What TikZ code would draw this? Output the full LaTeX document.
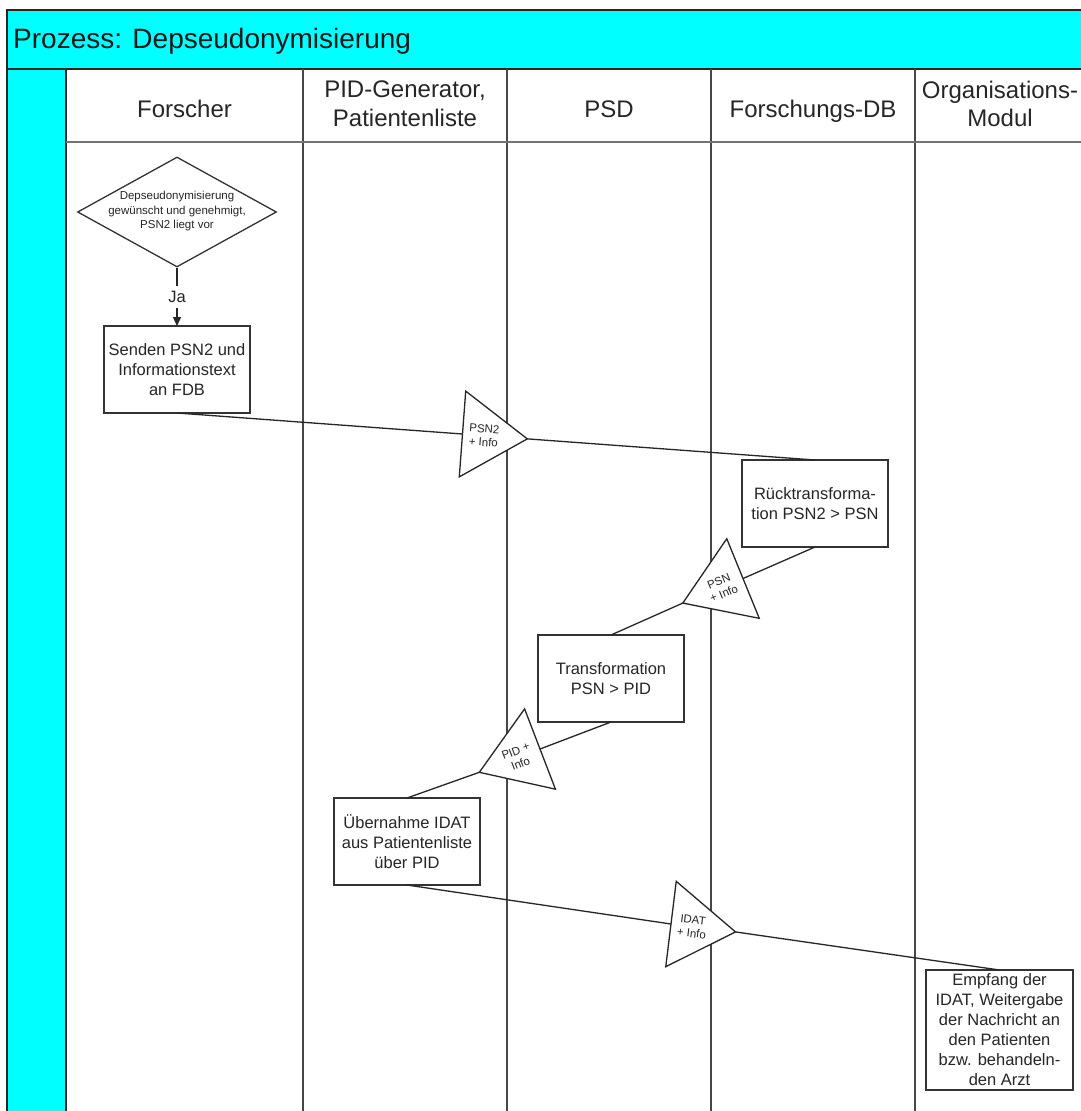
\documentclass[tikz,border=0pt]{standalone}
\usepackage{fontspec}
\setmainfont{Liberation Sans}
\usetikzlibrary{shapes.geometric,arrows.meta,calc}
\definecolor{poolcyan}{HTML}{00FFFF}
\definecolor{inkgray}{HTML}{262626}
\begin{document}
\begin{tikzpicture}[x=1pt,y=-1pt,
  lane/.style={line width=2pt, draw=black!72},
  taskbox/.style={draw=black!80, line width=1.4pt, fill=white, minimum width=146pt,
    minimum height=87pt, inner sep=0pt, outer sep=0pt, align=center,
    font=\fontsize{16.5}{20}\selectfont, text=inkgray},
  headtext/.style={align=center, font=\fontsize{24}{28.5}\selectfont, text=inkgray, inner sep=0pt},
  % base length is the minimum width, apex-to-base depth is the minimum height
  msgtri/.style={isosceles triangle, isosceles triangle stretches, minimum width=86pt,
    minimum height=65pt, inner sep=0pt, outer sep=0pt, draw=black!85, line width=1.3pt,
    fill=white, anchor=west},
  msglabel/.style={align=center, font=\fontsize{11.5}{13.5}\selectfont, text=inkgray, inner sep=0pt},
  flow/.style={line width=1.3pt, draw=black!85},
]
\useasboundingbox (0,0) rectangle (1080,1111);
\fill[white] (0,0) rectangle (1080,1111);

% pool title bar and left band
\draw[fill=poolcyan, line width=2pt, draw=black!85] (7,10) rectangle (1090,69);
\draw[fill=poolcyan, line width=2pt, draw=black!85] (7,69) rectangle (66,1120);
\node[anchor=base west, font=\fontsize{28}{32}\selectfont, text=black!90, inner sep=0pt]
  (title) at (13,48) {Prozess: Depseudonymisierung};

% swimlane dividers
\foreach \lx in {303,507,711,915} \draw[lane] (\lx,69) -- (\lx,1120);
\draw[line width=2pt, draw=black!55] (66,142) -- (1090,142);

% lane headers
\node[headtext, anchor=base] (hForscher) at (184.5,117.5) {Forscher};
\node[headtext] (hPID) at (405,103.5) {PID-Generator,\\Patientenliste};
\node[headtext, anchor=base] (hPSD) at (609,117.5) {PSD};
\node[headtext, anchor=base] (hFDB) at (813,117.5) {Forschungs-DB};
\node[headtext] (hOrg) at (1000,104) {Organisations-\\Modul};

% decision
\node[diamond, draw=black!80, line width=1.3pt, fill=white, minimum width=199pt,
  minimum height=110pt, inner sep=0pt] (dec) at (177,212) {};
\node[align=center, font=\fontsize{11.5}{14.5}\selectfont, text=inkgray, inner sep=0pt]
  (decText) at (177,211.5) {Depseudonymisierung\\gewünscht und genehmigt,\\PSN2 liegt vor};
\node[font=\fontsize{16.5}{20}\selectfont, text=inkgray, inner sep=0pt, minimum height=22pt]
  (ja) at (177,297) {Ja};

% tasks
\node[taskbox] (send) at (177,369.5) {Senden PSN2 und\\Informationstext\\an FDB};
\node[taskbox] (rueck) at (815,503.5) {Rücktransforma-\\tion PSN2 > PSN};
\node[taskbox] (trans) at (611,678.5) {Transformation\\PSN > PID};
\node[taskbox] (uebern) at (407,841.5) {Übernahme IDAT\\aus Patientenliste\\über PID};
\node[taskbox, minimum width=147pt, minimum height=120pt] (empf) at (999.5,1030)
  {Empfang der\\IDAT, Weitergabe\\der Nachricht an\\den Patienten\\bzw. behandeln-\\den Arzt};

% message triangles
\node[msgtri, rotate=-4.3] (m1) at (462.5,434) {};
\node[msglabel, rotate=-4.3] (m1text) at ($(m1.west)!0.33!(m1.apex)$) {PSN2\\+ Info};
\node[msgtri, rotate=202.2] (m2) at (743,578.5) {};
\node[msglabel, rotate=22.2] (m2text) at ($(m2.west)!0.36!(m2.apex)$) {PSN\\+ Info};
\node[msgtri, rotate=201] (m3) at (540,749) {};
\node[msglabel, rotate=21] (m3text) at ($(m3.west)!0.36!(m3.apex)$) {PID +\\Info};
\node[msgtri, rotate=-7] (m4) at (671,924) {};
\node[msglabel, rotate=-7] (m4text) at ($(m4.west)!0.33!(m4.apex)$) {IDAT\\+ Info};

% flow connectors
\draw[flow] (dec.south) -- (ja.north);
\draw[flow, -{Triangle[length=9pt,width=8pt]}] (ja.south) -- (send.north);
\draw[flow] (send.south) -- (m1.west);
\draw[flow] (m1.apex) -- (rueck.north);
\draw[flow] (rueck.south) -- (m2.west);
\draw[flow] (m2.apex) -- (trans.north);
\draw[flow] (trans.south) -- (m3.west);
\draw[flow] (m3.apex) -- (uebern.north);
\draw[flow] (uebern.south) -- (m4.west);
\draw[flow] (m4.apex) -- (empf.north);
\end{tikzpicture}
\end{document}
